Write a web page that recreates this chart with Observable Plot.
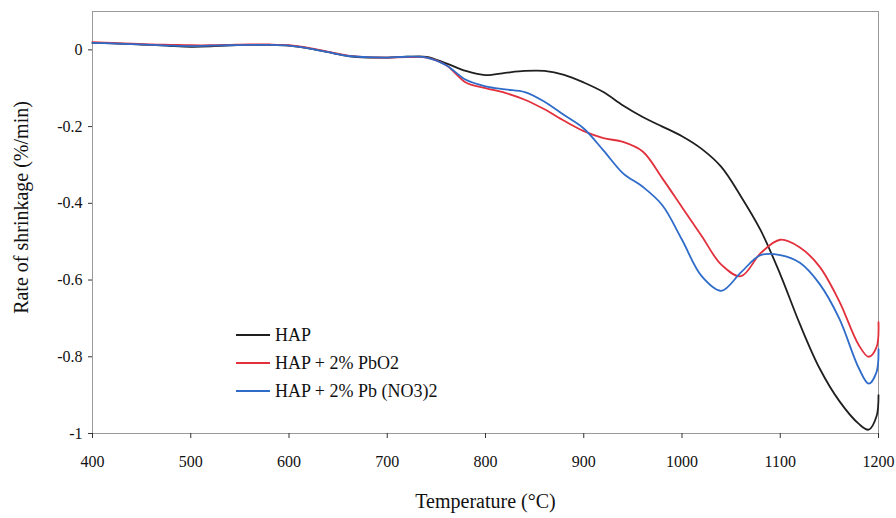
<!DOCTYPE html>
<html>
<head>
<meta charset="utf-8">
<script src="https://cdn.jsdelivr.net/npm/d3@7"></script>
<script src="https://cdn.jsdelivr.net/npm/@observablehq/plot@0.6"></script>
<style>
  body { margin: 0; background: #fff; }
  #wrap { position: relative; width: 896px; height: 518px; }
  #legend { position: absolute; left: 236px; top: 321px; font-family: "Liberation Serif", "Times New Roman", serif; font-size: 18px; color: #111; }
  #legend .row { display: flex; align-items: center; height: 28px; }
  #legend .sw { width: 34px; height: 0; border-top: 2px solid; margin-right: 5px; }
</style>
</head>
<body>
<div id="wrap"></div>
<script>
const temps = [400,420,440,460,480,500,520,540,560,580,600,620,640,660,680,700,720,740,760,780,800,820,840,860,880,900,920,940,960,980,1000,1020,1040,1060,1080,1100,1120,1140,1160,1180,1190,1198,1200];

const hap = [0.018,0.017,0.015,0.013,0.010,0.008,0.009,0.012,0.013,0.013,0.011,0.004,-0.006,-0.016,-0.020,-0.020,-0.018,-0.018,-0.035,-0.055,-0.066,-0.060,-0.055,-0.055,-0.065,-0.085,-0.110,-0.145,-0.175,-0.200,-0.225,-0.258,-0.305,-0.382,-0.470,-0.585,-0.715,-0.830,-0.915,-0.975,-0.990,-0.955,-0.900];

const hapPbO2 = [0.020,0.018,0.016,0.014,0.013,0.012,0.012,0.013,0.014,0.014,0.012,0.005,-0.005,-0.015,-0.019,-0.020,-0.019,-0.020,-0.040,-0.085,-0.100,-0.112,-0.130,-0.155,-0.185,-0.212,-0.230,-0.240,-0.265,-0.335,-0.410,-0.485,-0.560,-0.590,-0.530,-0.495,-0.515,-0.565,-0.655,-0.770,-0.800,-0.775,-0.710];

const hapPbNO3 = [0.018,0.017,0.015,0.013,0.011,0.010,0.011,0.012,0.013,0.013,0.011,0.004,-0.006,-0.016,-0.019,-0.020,-0.018,-0.020,-0.040,-0.078,-0.095,-0.103,-0.110,-0.135,-0.170,-0.205,-0.262,-0.322,-0.357,-0.405,-0.495,-0.590,-0.628,-0.580,-0.535,-0.535,-0.555,-0.610,-0.700,-0.830,-0.870,-0.840,-0.780];

const seriesNames = ["HAP", "HAP + 2% PbO2", "HAP + 2% Pb (NO3)2"];
const seriesColors = ["#1f1f1f", "#e2303c", "#2f6cc9"];
const xTicks = [400,500,600,700,800,900,1000,1100,1200];
const yTicks = [0,-0.2,-0.4,-0.6,-0.8,-1];
const yTickLabels = ["0","-0.2","-0.4","-0.6","-0.8","-1"];
const xTitle = "Temperature (\u00B0C)";
const yTitle = "Rate of shrinkage (%/min)";

const allSeries = [hap, hapPbO2, hapPbNO3];
const rows = [];
allSeries.forEach((vals, i) => {
  temps.forEach((t, j) => rows.push({series: seriesNames[i], t, v: vals[j]}));
});

const font = "'Liberation Serif', 'Times New Roman', serif";

const chart = Plot.plot({
  width: 896,
  height: 518,
  marginLeft: 92,
  marginRight: 18,
  marginTop: 11,
  marginBottom: 85,
  style: {fontFamily: font, fontSize: "16px", color: "#111", background: "#fff"},
  x: {domain: [400, 1200]},
  y: {domain: [-1, 0.1]},
  color: {domain: seriesNames, range: seriesColors},
  marks: [
    Plot.frame({stroke: "#9a9a9a", strokeWidth: 1}),
    Plot.axisX({ticks: xTicks, tickSize: 5, tickPadding: 17, label: null, stroke: "#333", fontSize: 16, fontFamily: font, tickFormat: (d) => String(d)}),
    Plot.axisY({ticks: yTicks, tickSize: 4, tickPadding: 6, label: null, tickFormat: (d) => yTickLabels[yTicks.indexOf(d)], stroke: "#333", fontSize: 16, fontFamily: font}),
    Plot.axisX({ticks: [], tickSize: 0, label: null, line: true, stroke: "#333"}),
    Plot.axisY({ticks: [], tickSize: 0, label: null, line: true, stroke: "#333"}),
    Plot.line(rows, {x: "t", y: "v", z: "series", stroke: "series", strokeWidth: 1.8, curve: "catmull-rom"}),
    Plot.text([xTitle], {frameAnchor: "bottom", dy: 74, fontSize: 20, fill: "#111", fontFamily: font}),
    Plot.text([yTitle], {frameAnchor: "left", textAnchor: "middle", lineAnchor: "middle", dx: -71, dy: -15, rotate: -90, fontSize: 20, fill: "#111", fontFamily: font})
  ]
});

const wrap = document.getElementById("wrap");
wrap.appendChild(chart);
const legend = document.createElement("div");
legend.id = "legend";
seriesNames.forEach((name, i) => {
  const row = document.createElement("div");
  row.className = "row";
  const sw = document.createElement("span");
  sw.className = "sw";
  sw.style.borderTopColor = seriesColors[i];
  const tx = document.createElement("span");
  tx.textContent = name;
  row.appendChild(sw);
  row.appendChild(tx);
  legend.appendChild(row);
});
wrap.appendChild(legend);
</script>
</body>
</html>
